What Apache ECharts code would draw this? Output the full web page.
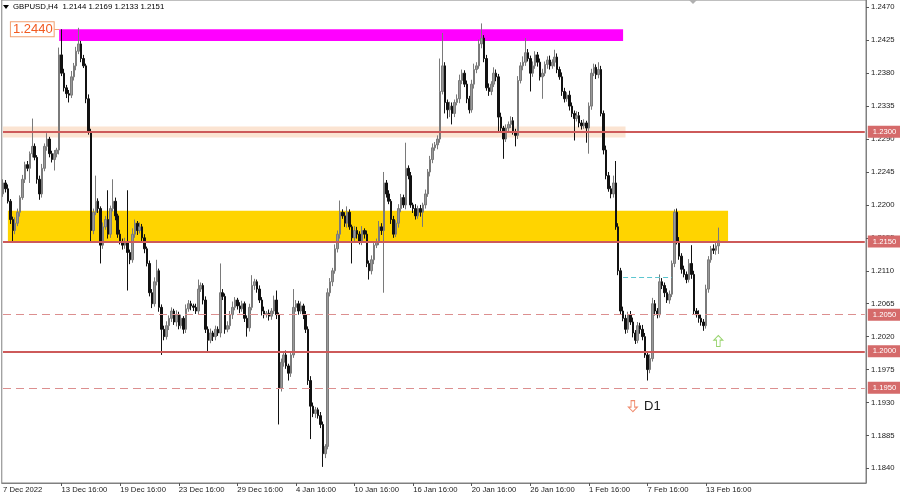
<!DOCTYPE html>
<html>
<head>
<meta charset="utf-8">
<script src="https://cdn.jsdelivr.net/npm/echarts@6/dist/echarts.min.js"></script>
<style>
html, body { margin: 0; padding: 0; background: #fff; }
#chart { width: 900px; height: 494px; }
</style>
</head>
<body>
<div id="chart"></div>
<script>
// GBPUSD H4, prices stored as 1/10000 above 1.0 (2230 -> 1.2230)
// open of each bar = close of the bar before
const firstOpen = 2215;
const closes = [
  2230, 2222, 2205, 2180, 2165, 2175, 2190, 2210, 2235, 2255,
  2250, 2270, 2280, 2265, 2235, 2215, 2250, 2280, 2290, 2270,
  2262, 2270, 2275, 2405, 2380, 2360, 2352, 2350, 2375, 2390,
  2410, 2420, 2400, 2390, 2345, 2300, 2165, 2190, 2205, 2195,
  2145, 2170, 2180, 2160, 2195, 2205, 2185, 2160, 2150, 2145,
  2150, 2135, 2125, 2160, 2175, 2165, 2170, 2155, 2140, 2120,
  2080, 2065, 2095, 2110, 2060, 2030, 2020, 2035, 2045, 2055,
  2040, 2050, 2035, 2045, 2030, 2058, 2065, 2062, 2060, 2055,
  2085, 2090, 2070, 2030, 2015, 2025, 2020, 2030, 2025, 2080,
  2075, 2030, 2035, 2050, 2060, 2070, 2062, 2058, 2065, 2045,
  2032, 2060, 2090, 2095, 2085, 2070, 2055, 2050, 2052, 2048,
  2055, 2070, 2050, 1950, 1985, 1995, 1980, 1970, 1995, 2060,
  2065, 2055, 2062, 2050, 2030, 1960, 1925, 1915, 1920, 1912,
  1900, 1860, 1870, 2080, 2095, 2110, 2140, 2160, 2190, 2185,
  2175, 2190, 2170, 2155, 2165, 2160, 2150, 2165, 2160, 2120,
  2110, 2125, 2145, 2150, 2170, 2165, 2230, 2215, 2205, 2180,
  2160, 2175, 2195, 2210, 2200, 2250, 2240, 2200, 2195, 2185,
  2195, 2190, 2200, 2215, 2245, 2262, 2278, 2282, 2290, 2355,
  2390, 2340, 2330, 2335, 2325, 2340, 2345, 2370, 2380, 2365,
  2345, 2330, 2365, 2385, 2390, 2420, 2428, 2400, 2360, 2355,
  2365, 2380, 2375, 2320, 2305, 2290, 2305, 2310, 2315, 2300,
  2295, 2370, 2390, 2395, 2408, 2400, 2380, 2390, 2405, 2395,
  2375, 2380, 2392, 2398, 2390, 2395, 2402, 2385, 2375, 2355,
  2345, 2350, 2335, 2325, 2318, 2322, 2312, 2308, 2312, 2305,
  2335, 2380, 2388, 2378, 2385, 2325, 2275, 2240, 2222, 2215,
  2230, 2170, 2110, 2055, 2045, 2030, 2050, 2040, 2025, 2015,
  2035, 2030, 2020, 1995, 1975, 1990, 2065, 2055, 2050, 2095,
  2090, 2080, 2070, 2078, 2120, 2190, 2150, 2130, 2112, 2105,
  2098, 2120, 2105, 2055, 2050, 2045, 2040, 2035, 2085, 2125,
  2140, 2138, 2144, 2151
];
// wick length above / below the body, same units
const upperWick = [
  5, 4, 6, 3, 4, 8, 5, 3, 6, 4,
  5, 3, 38, 4, 3, 5, 6, 4, 8, 3,
  4, 5, 3, 10, 35, 6, 4, 5, 8, 4,
  6, 22, 4, 5, 3, 6, 4, 5, 35, 4,
  3, 6, 5, 40, 4, 30, 5, 3, 6, 4,
  5, 70, 4, 8, 5, 3, 6, 4, 5, 3,
  4, 5, 6, 15, 3, 4, 5, 6, 4, 5,
  3, 6, 4, 5, 3, 6, 5, 4, 3, 5,
  13, 4, 3, 5, 4, 6, 3, 5, 4, 40,
  5, 4, 6, 5, 8, 4, 3, 5, 4, 3,
  4, 5, 14, 4, 3, 5, 4, 6, 3, 5,
  4, 6, 13, 3, 5, 4, 6, 3, 5, 25,
  5, 4, 6, 3, 5, 4, 6, 5, 4, 3,
  5, 4, 3, 6, 5, 4, 6, 5, 16, 4,
  5, 8, 4, 3, 6, 5, 4, 6, 3, 5,
  4, 6, 5, 4, 8, 5, 15, 4, 5, 3,
  5, 4, 6, 5, 4, 35, 4, 5, 3, 6,
  4, 5, 3, 6, 4, 5, 6, 4, 5, 45,
  45, 5, 4, 6, 5, 4, 6, 8, 5, 4,
  5, 4, 6, 8, 5, 6, 20, 4, 5, 6,
  4, 8, 5, 4, 6, 3, 5, 4, 6, 5,
  4, 6, 5, 8, 20, 5, 4, 6, 5, 4,
  5, 6, 4, 5, 6, 4, 10, 5, 4, 6,
  5, 4, 6, 5, 4, 6, 5, 4, 5, 3,
  5, 6, 5, 4, 10, 5, 4, 6, 5, 4,
  10, 30, 5, 4, 6, 5, 4, 5, 6, 4,
  5, 4, 6, 5, 4, 6, 8, 5, 4, 10,
  5, 4, 6, 5, 4, 4, 5, 6, 4, 5,
  4, 6, 25, 5, 4, 6, 5, 4, 6, 5,
  4, 6, 5, 18
];
const lowerWick = [
  4, 5, 3, 6, 15, 5, 4, 6, 3, 5,
  4, 20, 5, 4, 6, 8, 5, 4, 6, 5,
  4, 15, 5, 6, 4, 5, 6, 10, 4, 5,
  6, 4, 5, 3, 6, 4, 15, 5, 4, 6,
  25, 5, 4, 6, 5, 4, 6, 5, 4, 6,
  5, 52, 6, 4, 5, 6, 4, 5, 6, 4,
  5, 6, 4, 5, 6, 35, 5, 4, 6, 5,
  4, 6, 5, 4, 6, 5, 4, 6, 5, 4,
  5, 4, 6, 5, 15, 4, 6, 5, 4, 6,
  5, 6, 4, 5, 6, 4, 5, 6, 4, 5,
  12, 5, 4, 6, 5, 4, 6, 5, 4, 6,
  5, 4, 6, 50, 5, 6, 4, 10, 5, 4,
  6, 5, 4, 6, 5, 6, 45, 5, 6, 4,
  5, 18, 6, 4, 5, 6, 4, 5, 6, 4,
  5, 6, 4, 35, 5, 6, 4, 5, 6, 5,
  12, 5, 6, 4, 5, 6, 85, 5, 4, 6,
  5, 4, 6, 5, 4, 6, 5, 4, 6, 5,
  4, 6, 20, 5, 4, 6, 5, 4, 6, 5,
  4, 15, 12, 10, 15, 5, 4, 6, 5, 4,
  6, 5, 4, 6, 5, 4, 6, 5, 4, 6,
  5, 4, 6, 20, 5, 27, 4, 6, 5, 4,
  15, 5, 4, 6, 5, 4, 25, 5, 4, 6,
  5, 30, 4, 6, 5, 4, 6, 5, 4, 6,
  5, 4, 6, 5, 30, 4, 6, 5, 4, 20,
  35, 5, 4, 6, 5, 4, 6, 5, 4, 6,
  5, 4, 6, 5, 4, 6, 5, 4, 6, 5,
  4, 6, 5, 4, 15, 5, 4, 6, 5, 4,
  5, 6, 4, 5, 4, 5, 4, 5, 6, 4,
  5, 4, 6, 5, 4, 6, 5, 7, 4, 5,
  4, 5, 6, 11
];

const totalBars = 354; // bar slots across the window, incl. empty space on the right
const tickBars = [0, 24, 48, 72, 96, 120, 144, 168, 192, 216, 240, 264, 288];
const tickLabels = ['7 Dec 2022', '13 Dec 16:00', '19 Dec 16:00', '23 Dec 16:00', '29 Dec 16:00',
  '4 Jan 16:00', '10 Jan 16:00', '16 Jan 16:00', '20 Jan 16:00', '26 Jan 16:00',
  '1 Feb 16:00', '7 Feb 16:00', '13 Feb 16:00'];
const priceTicks = [1.1840, 1.1885, 1.1930, 1.1975, 1.2020, 1.2065, 1.2110, 1.2155,
  1.2200, 1.2245, 1.2290, 1.2335, 1.2380, 1.2425, 1.2470];

const levels = [1.2300, 1.2150, 1.2050, 1.2000, 1.1950];
const levelDashed = [false, false, true, false, true];
// zones: [fromBar, toBar, low, high]
const peachZone = [0, 255, 1.2292, 1.2307];
const yellowZone = [2, 297, 1.2150, 1.2192];
const magentaZone = [23, 254, 1.2424, 1.2440];
const cyanLine = [254, 274, 1.2101];
const tagPrice = 1.2440;
const tagBar = 12;
const upArrow = [293, 1.2014];
const downArrow = [258, 1.1925];
const d1Label = [266, 1.1925];

const font = 'Liberation Sans, Arial, sans-serif';
const categories = Array.from({ length: totalBars }, (_, i) => String(i));
const px = v => +(1 + v / 10000).toFixed(4);
const candles = closes.map((c, i) => {
  const o = i ? closes[i - 1] : firstOpen;
  const hi = Math.max(o, c) + upperWick[i];
  const lo = Math.min(o, c) - lowerWick[i];
  return [px(o), px(c), px(lo), px(hi)];
});
const last = candles[candles.length - 1];
const header = 'GBPUSD,H4  ' + [last[0], last[3], last[2], last[1]].map(v => v.toFixed(4)).join(' ');

var chartDom = document.getElementById('chart');
var myChart = echarts.init(chartDom);
var option;

function zone(z, color) {
  return [{ coord: [String(z[0]), z[3]], itemStyle: { color: color, opacity: 1 } },
          { coord: [String(z[1]), z[2]] }];
}
function hline(v, bar0, bar1, style) {
  return [{ coord: [bar0, v], lineStyle: style, label: { show: false } }, { coord: [bar1, v] }];
}

const arrowPath = 'path://M5,0 L10,5 L7,5 L7,12 L3,12 L3,5 L0,5 Z';
const lastSlot = String(totalBars - 1);

// level lines run across the whole window; the price tag sits on the axis
const levelLines = levels.map((v, i) => {
  const style = levelDashed[i]
    ? { color: '#dc8f8f', width: 1, type: [8, 5] }
    : { color: '#cd5a5a', width: 2, type: 'solid' };
  return [
    {
      coord: ['0', v], lineStyle: style,
      label: {
        show: true, position: 'end', distance: 3, formatter: v.toFixed(4),
        color: '#fff', backgroundColor: '#d56a6a', padding: [2, 5, 2, 5],
        fontSize: 7.7, fontFamily: font
      }
    },
    { coord: [lastSlot, v] }
  ];
});

option = {
  animation: false,
  backgroundColor: '#fff',
  grid: { left: 1, right: 34, top: 0, bottom: 11, show: true, borderColor: '#808080', borderWidth: 1 },
  graphic: [
    { type: 'polygon', shape: { points: [[3, 5], [9, 5], [6, 9]] }, style: { fill: '#000' } },
    { type: 'polygon', shape: { points: [[689, 0], [697, 0], [693, 4]] }, style: { fill: '#b0b0b0' } },
    { type: 'text', left: 13, top: 3, style: { text: header, fontSize: 7.8, fontFamily: font, fill: '#000' } }
  ],
  xAxis: {
    type: 'category',
    data: categories,
    boundaryGap: true,
    axisLine: { lineStyle: { color: '#808080' } },
    axisTick: {
      show: true, length: 3, alignWithLabel: true,
      interval: i => i > 0 && tickBars.includes(i),
      lineStyle: { color: '#555' }
    },
    axisLabel: {
      interval: i => tickBars.includes(i),
      formatter: (v, i) => tickLabels[tickBars.indexOf(i)],
      align: 'left', margin: 3, fontSize: 7.7, color: '#1a1a1a', fontFamily: font
    },
    splitLine: { show: false }
  },
  yAxis: {
    type: 'value',
    position: 'right',
    min: 1.1820,
    max: 1.2480,
    axisLine: { show: true, lineStyle: { color: '#808080' } },
    axisTick: { show: true, length: 3, customValues: priceTicks, lineStyle: { color: '#555' } },
    axisLabel: {
      customValues: priceTicks, margin: 5, fontSize: 7.7, color: '#1a1a1a', fontFamily: font,
      formatter: v => v.toFixed(4)
    },
    splitLine: { show: false }
  },
  series: [
    {
      type: 'line', data: [], z: 1, silent: true,
      markArea: {
        silent: true,
        data: [zone(peachZone, '#fbe4d2'), zone(yellowZone, '#ffd400'), zone(magentaZone, '#ff00ff')]
      }
    },
    {
      type: 'candlestick',
      data: candles,
      z: 2,
      clip: false,
      barWidth: 2,
      itemStyle: {
        color: '#999', color0: '#111',
        borderColor: '#7a7a7a', borderColor0: '#111', borderWidth: 1
      },
      markLine: {
        symbol: ['none', 'none'],
        silent: true,
        data: levelLines.concat([
          hline(cyanLine[2], String(cyanLine[0]), String(cyanLine[1]), { color: '#5cc6d0', width: 1, type: [5, 3] }),
          hline(tagPrice, String(tagBar + 9), String(magentaZone[0]), { color: '#f2a070', width: 1, type: 'solid' })
        ])
      },
      markPoint: {
        silent: true,
        data: [
          {
            coord: [String(tagBar), tagPrice], symbol: 'rect', symbolSize: 1,
            itemStyle: { color: 'rgba(0,0,0,0)' },
            label: {
              show: true, position: 'inside', formatter: tagPrice.toFixed(4),
              color: '#f25a20', fontSize: 13, fontFamily: font,
              backgroundColor: '#fff', borderColor: '#f2a070', borderWidth: 1, padding: [1, 1, 0, 2]
            }
          },
          {
            coord: [String(upArrow[0]), upArrow[1]], symbol: arrowPath, symbolSize: [9, 11],
            itemStyle: { color: '#fff', borderColor: '#98d46e', borderWidth: 1 },
            label: { show: false }
          },
          {
            coord: [String(downArrow[0]), downArrow[1]], symbol: arrowPath, symbolSize: [9, 11], symbolRotate: 180,
            itemStyle: { color: '#fff', borderColor: '#f08a6c', borderWidth: 1 },
            label: { show: false }
          },
          {
            coord: [String(d1Label[0]), d1Label[1]], symbol: 'rect', symbolSize: 1,
            itemStyle: { color: 'rgba(0,0,0,0)' },
            label: { show: true, position: 'inside', formatter: 'D1', color: '#1a1a1a', fontSize: 13, fontFamily: font }
          }
        ]
      }
    }
  ]
};

option && myChart.setOption(option);
</script>
</body>
</html>
